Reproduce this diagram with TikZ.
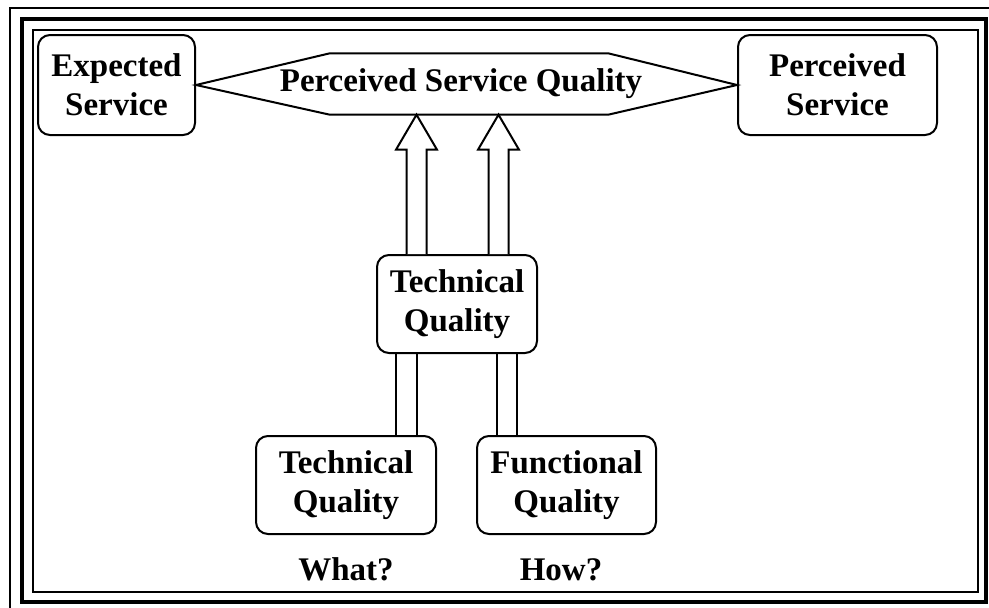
\documentclass[tikz,border=0pt]{standalone}
\usepackage{fontspec}
\setmainfont{Liberation Serif}
\usetikzlibrary{calc}
\begin{document}
\begin{tikzpicture}[x=1pt,y=-1pt,
  txt/.style={font=\bfseries\fontsize{33}{39}\selectfont, align=center, inner sep=0pt},
  qbox/.style={draw, line width=2pt, rounded corners=12pt, fill=white, txt},
  hollow/.style={draw, line width=2pt, fill=white, line join=miter},
  rail/.style={line width=2pt}]
\clip (0,0) rectangle (989,608);
\fill[white] (0,0) rectangle (989,608);
% triple frame
\draw[line width=2pt] (10,8) rectangle (1000,620);
\draw[line width=4pt] (22,19) rectangle (986,602);
\draw[line width=2pt] (33,30) rectangle (978,592);

% boxes
\node[qbox, minimum width=157pt, minimum height=100pt] (es) at (116.5,85) {Expected\\Service};
\node[qbox, minimum width=199pt, minimum height=100pt] (ps) at (837.5,85) {Perceived\\Service};
\node[qbox, minimum width=160pt, minimum height=98pt] (mid) at (457,304) {Technical\\Quality};
\node[qbox, minimum width=180pt, minimum height=98pt] (tq) at (346,485) {Technical\\Quality};
\node[qbox, minimum width=179pt, minimum height=98pt] (fq) at (566.5,485) {Functional\\Quality};

% hexagon between the two service boxes
\node[minimum width=278pt, minimum height=61pt, inner sep=0pt] (pqf) at (469,84) {};
\draw[line width=2pt, line join=miter] (es.east) -- (pqf.north west) -- (pqf.north east)
  -- (ps.west) -- (pqf.south east) -- (pqf.south west) -- cycle;
\node[txt] (pq) at (461,83.5) {Perceived Service Quality};

% hollow block arrows from the middle box to the hexagon
\coordinate (a1) at ($(mid.north)+(-40.5,0)$);
\coordinate (t1) at (a1 |- pqf.south);
\coordinate (a2) at ($(mid.north)+(41.5,0)$);
\coordinate (t2) at (a2 |- pqf.south);
\foreach \b/\t in {a1/t1, a2/t2}{
  \draw[hollow] ($(\b)+(-10,0)$) -- ($(\t)+(-10,35)$) -- ($(\t)+(-20.5,35)$) -- (\t)
    -- ($(\t)+(20.5,35)$) -- ($(\t)+(10,35)$) -- ($(\b)+(10,0)$);
}

% double rails from the lower boxes to the middle box
\coordinate (r1) at ($(mid.south)+(-61,0)$);
\coordinate (r2) at ($(mid.south)+(-40,0)$);
\coordinate (r3) at ($(mid.south)+(40,0)$);
\coordinate (r4) at ($(mid.south)+(60,0)$);
\draw[rail] (r1) -- (r1 |- tq.north);
\draw[rail] (r2) -- (r2 |- tq.north);
\draw[rail] (r3) -- (r3 |- fq.north);
\draw[rail] (r4) -- (r4 |- fq.north);

% captions
\node[txt, anchor=base] (what) at (346,580) {What?};
\node[txt, anchor=base] (how) at (561,580) {How?};
\end{tikzpicture}
\end{document}
